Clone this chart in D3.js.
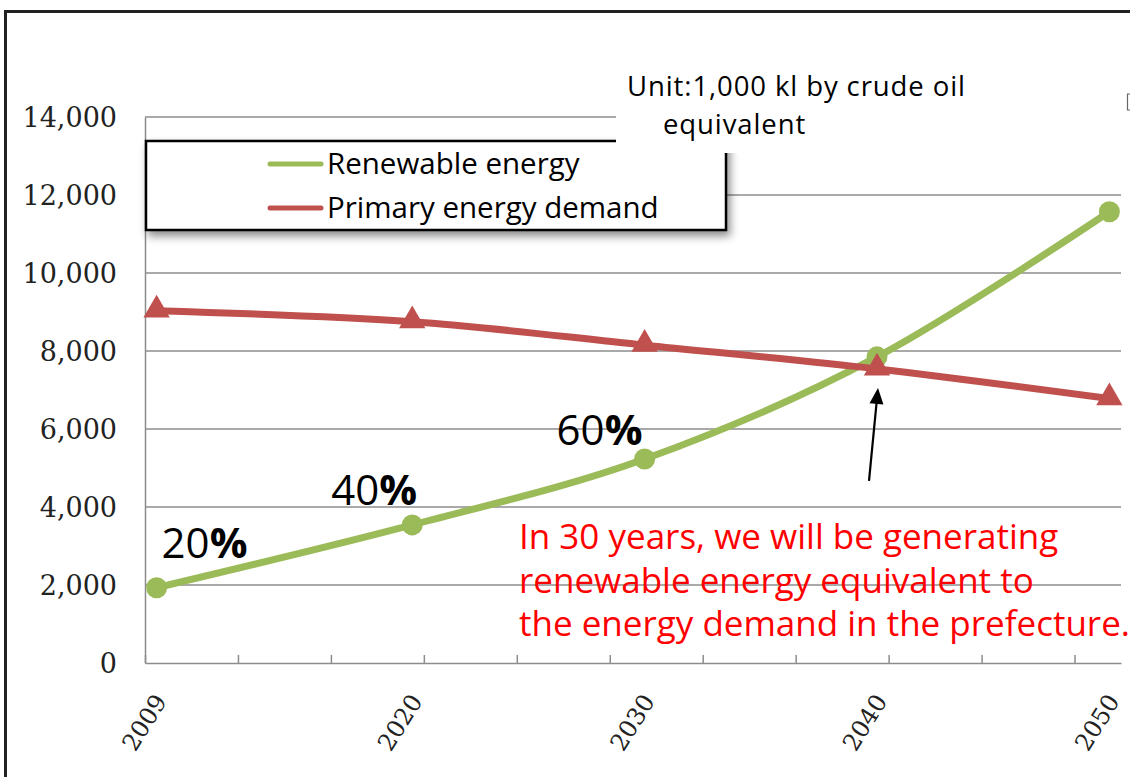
<!DOCTYPE html>
<html>
<head>
<meta charset="utf-8">
<script src="https://cdn.jsdelivr.net/npm/d3@7"></script>
<style>
  body { margin: 0; background: #fff; }
  svg { display: block; }
</style>
</head>
<body>
<div id="chart"></div>
<script>
// values (1,000 kl crude oil equivalent)
const years = [2009, 2020, 2030, 2040, 2050];
const renewable = [1930, 3540, 5230, 7850, 11570];
const primaryDemand = [9030, 8750, 8150, 7540, 6780];
const yTicks = [0, 2000, 4000, 6000, 8000, 10000, 12000, 14000];
const shareLabels = ["20", "40", "60"];
const seriesNames = ["Renewable energy", "Primary energy demand"];
const unitLines = ["Unit:1,000 kl by crude oil", "equivalent"];
const noteLines = [
  "In 30 years, we will be generating",
  "renewable energy equivalent to",
  "the energy demand in the prefecture."
];

(function () {
  const W = 1130, H = 777;
  const green = "#9bbb59", red = "#c0504d";
  const sans = "'Open Sans', 'Noto Sans', sans-serif";
  const serif = "'DejaVu Serif', serif";

  const svg = d3.select("#chart").append("svg")
    .attr("width", W).attr("height", H);

  const defs = svg.append("defs");
  const f = defs.append("filter").attr("id", "shadow")
    .attr("x", "-5%").attr("y", "-20%").attr("width", "115%").attr("height", "150%");
  f.append("feDropShadow").attr("dx", 3).attr("dy", 5)
    .attr("stdDeviation", 4).attr("flood-color", "#000").attr("flood-opacity", 0.45);

  svg.append("rect").attr("width", W).attr("height", H).attr("fill", "#fff");

  // outer frame
  svg.append("rect")
    .attr("x", 5.5).attr("y", 11.5).attr("width", 1300).attr("height", 1000)
    .attr("fill", "none").attr("stroke", "#222").attr("stroke-width", 3);

  // category axis: one slot per year, 2009..2050
  const x = d3.scaleLinear().domain([2008.5, 2050.5]).range([145, 1121]);
  const y = d3.scaleLinear().domain([0, 14000]).range([663, 117]);

  // gridlines
  svg.append("g")
    .selectAll("line").data(yTicks.filter(d => d > 0)).join("line")
    .attr("x1", x.range()[0]).attr("x2", x.range()[1])
    .attr("y1", d => y(d)).attr("y2", d => y(d))
    .attr("stroke", "#8c8c8c").attr("stroke-width", 1.5);

  // y axis
  const yAxis = svg.append("g")
    .attr("transform", `translate(${x.range()[0]},0)`)
    .call(d3.axisLeft(y).tickValues(yTicks).tickSize(0).tickPadding(28)
      .tickFormat(d3.format(",")));
  yAxis.select(".domain").attr("stroke", "#8c8c8c").attr("stroke-width", 1.5);
  yAxis.selectAll("text")
    .attr("font-family", serif).attr("font-size", 27).attr("fill", "#222")
    .attr("dy", "0.36em");

  // x axis, tick marks every 4 slots, pointing up
  const xAxis = svg.append("g")
    .attr("transform", `translate(0,${y(0)})`)
    .call(d3.axisBottom(x).tickValues(d3.range(2008.5, 2050, 4))
      .tickSizeInner(-8).tickSizeOuter(0).tickFormat(""));
  xAxis.select(".domain").attr("stroke", "#8c8c8c").attr("stroke-width", 1.5);
  xAxis.selectAll(".tick line").attr("stroke", "#8c8c8c").attr("stroke-width", 1.5);

  svg.append("g")
    .selectAll("text").data(years).join("text")
    .attr("transform", d => `translate(${x(d) + 11},${y(0) + 38}) rotate(-58)`)
    .attr("text-anchor", "end")
    .attr("font-family", serif).attr("font-size", 24).attr("fill", "#222")
    .text(d => d);

  // series lines
  const line = d3.line().curve(d3.curveCatmullRom.alpha(0))
    .x(d => x(d[0])).y(d => y(d[1]));

  const renewPts = years.map((yr, i) => [yr, renewable[i]]);
  const demandPts = years.map((yr, i) => [yr, primaryDemand[i]]);

  svg.append("path").datum(renewPts)
    .attr("d", line).attr("fill", "none")
    .attr("stroke", green).attr("stroke-width", 7).attr("stroke-linecap", "round");
  svg.append("g").selectAll("circle").data(renewPts).join("circle")
    .attr("cx", d => x(d[0])).attr("cy", d => y(d[1])).attr("r", 10.5)
    .attr("fill", green);

  svg.append("path").datum(demandPts)
    .attr("d", line).attr("fill", "none")
    .attr("stroke", red).attr("stroke-width", 7).attr("stroke-linecap", "round");
  const tri = d3.symbol().type(d3.symbolTriangle).size(300);
  svg.append("g").selectAll("path").data(demandPts).join("path")
    .attr("transform", d => `translate(${x(d[0])},${y(d[1]) - 1})`)
    .attr("d", tri).attr("fill", red);

  // share annotations
  const shareOffsets = [[5, -30], [-81, -20], [-88, -14]];
  const shares = svg.append("g")
    .attr("font-family", sans).attr("font-size", 42).attr("fill", "#000");
  shareLabels.forEach((s, i) => {
    const t = shares.append("text")
      .attr("x", x(years[i]) + shareOffsets[i][0])
      .attr("y", y(renewable[i]) + shareOffsets[i][1]);
    t.append("tspan").text(s);
    t.append("tspan").attr("font-weight", "bold").text("%");
  });

  // legend
  const lg = svg.append("g");
  lg.append("rect")
    .attr("x", 146).attr("y", 141).attr("width", 580).attr("height", 89)
    .attr("fill", "#fff").attr("stroke", "#000").attr("stroke-width", 2.5)
    .attr("filter", "url(#shadow)");
  [green, red].forEach((c, i) => {
    const ly = 164 + i * 44;
    lg.append("line")
      .attr("x1", 270).attr("x2", 321).attr("y1", ly).attr("y2", ly)
      .attr("stroke", c).attr("stroke-width", 5).attr("stroke-linecap", "round");
    lg.append("text")
      .attr("x", 327).attr("y", ly + 10)
      .attr("font-family", sans).attr("font-size", 29.5).attr("fill", "#000")
      .text(seriesNames[i]);
  });

  // unit box
  svg.append("rect")
    .attr("x", 616).attr("y", 62).attr("width", 508).attr("height", 91)
    .attr("fill", "#fff");
  svg.append("path")
    .attr("d", "M1132,94 L1127.5,94 L1127.5,110 L1132,110")
    .attr("fill", "none").attr("stroke", "#666").attr("stroke-width", 1.2);
  svg.append("g")
    .attr("font-family", sans).attr("font-size", 27.5).attr("letter-spacing", 0.9)
    .attr("fill", "#000")
    .selectAll("text").data(unitLines).join("text")
    .attr("x", (d, i) => i === 0 ? 627 : 663)
    .attr("y", (d, i) => 96 + i * 38)
    .text(d => d);

  // arrow to the crossing point
  const tipX = x(2040) + 1, tipY = y(primaryDemand[3]) + 19;
  const tailX = tipX - 9, tailY = tipY + 93;
  const ang = Math.atan2(tipY - tailY, tipX - tailX);
  svg.append("line")
    .attr("x1", tailX).attr("y1", tailY)
    .attr("x2", tipX - 12 * Math.cos(ang)).attr("y2", tipY - 12 * Math.sin(ang))
    .attr("stroke", "#000").attr("stroke-width", 2.2);
  const hw = 7, hl = 16;
  const bx = tipX - hl * Math.cos(ang), by = tipY - hl * Math.sin(ang);
  svg.append("path")
    .attr("d", `M${tipX},${tipY} L${bx + hw * Math.sin(ang)},${by - hw * Math.cos(ang)} L${bx - hw * Math.sin(ang)},${by + hw * Math.cos(ang)} Z`)
    .attr("fill", "#000");

  // red note
  svg.append("g")
    .attr("font-family", sans).attr("font-size", 35).attr("fill", "#ff0000")
    .selectAll("text").data(noteLines).join("text")
    .attr("x", 519).attr("y", (d, i) => 549 + i * 43.5)
    .text(d => d);
})();
</script>
</body>
</html>
